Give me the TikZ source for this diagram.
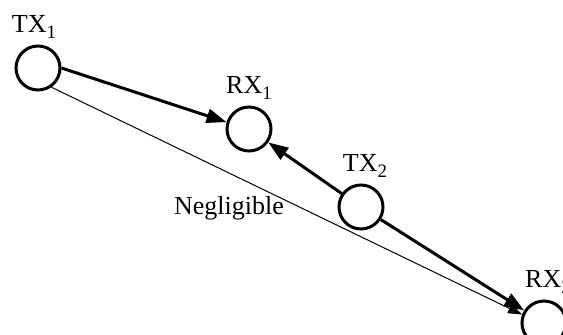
\documentclass[tikz,border=0pt]{standalone}
\usepackage{fontspec}
\setmainfont{Liberation Serif}
\usetikzlibrary{positioning, arrows.meta}
\newcommand{\lowidx}[1]{\raisebox{-0.45ex}{\fontsize{9.5}{10}\selectfont #1}}
\tikzset{
  station/.style ={circle, draw=black, fill=white, line width=1.5pt,
                   minimum size=22pt, inner sep=0pt},
  stlabel/.style ={font=\fontsize{13}{15}\selectfont, inner sep=1pt},
  strong/.style  ={-{Triangle[length=10pt,width=7pt]}, line width=1.5pt},
  weak/.style    ={-{Triangle[length=7pt,width=5pt]}, line width=0.5pt},
}
\begin{document}
\begin{tikzpicture}[x=0.5pt, y=-0.5pt]
  \useasboundingbox (0,0) rectangle (563,335);

  % stations
  \node[station] (tx1) at (38,68)   {};
  \node[station] (rx1) at (249,129) {};
  \node[station] (tx2) at (361,207) {};
  \node[station] (rx2) at (544,323) {};

  % labels
  \node[stlabel, above=2pt of tx1, xshift=-2pt] (tx1lab) {TX\lowidx{1}};
  \node[stlabel, above=2pt of rx1]              (rx1lab) {RX\lowidx{1}};
  \node[stlabel, above=2pt of tx2, xshift=2pt]  (tx2lab) {TX\lowidx{2}};
  \node[stlabel, above=2pt of rx2, xshift=2pt]  (rx2lab) {RX\lowidx{2}};
  \node[stlabel] (neglab) at (229,208) {Negligible};

  % links
  \draw[strong] (tx1.east) -- (rx1.163);
  \draw[strong] (tx2) -- (rx1);
  \draw[strong] (tx2) -- (rx2);
  \draw[weak]   (tx1.-55) -- (rx2.159);
\end{tikzpicture}
\end{document}
